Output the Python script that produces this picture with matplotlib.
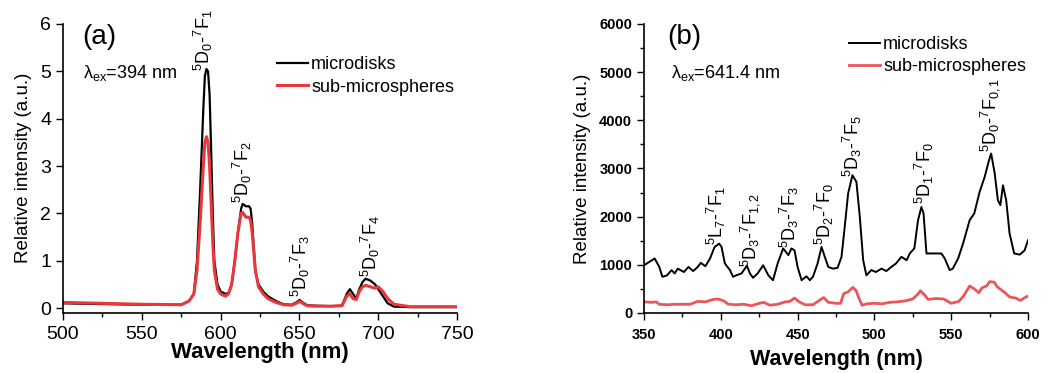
import matplotlib
matplotlib.use('Agg')
import matplotlib.pyplot as plt
from matplotlib.ticker import MultipleLocator

plt.rcParams['font.family'] = ['Liberation Sans', 'DejaVu Sans']
plt.rcParams['mathtext.fontset'] = 'custom'
plt.rcParams['mathtext.rm'] = 'Liberation Sans'
plt.rcParams['mathtext.it'] = 'Liberation Sans:italic'

# (a) emission, excitation 394 nm
wl_a = [500, 550, 575, 580, 583, 585, 587, 589, 590, 591, 592, 593, 594, 595, 596, 598,
        600, 603, 605, 607, 609, 611, 613, 614, 616, 618, 619, 620, 621, 622, 624, 627,
        630, 635, 640, 645, 648, 650, 652, 655, 660, 670, 677, 680, 682, 684, 686, 688,
        690, 692, 695, 698, 700, 703, 706, 710, 720, 750]
disks_a = [0.10, 0.07, 0.07, 0.15, 0.30, 1.0, 2.5, 4.2, 4.9, 5.05, 5.0, 4.5, 3.3, 2.0, 1.0, 0.5,
           0.35, 0.30, 0.32, 0.5, 1.0, 1.6, 2.1, 2.2, 2.15, 2.15, 2.1, 1.8, 1.3, 0.8, 0.5, 0.35,
           0.25, 0.15, 0.08, 0.07, 0.12, 0.17, 0.12, 0.06, 0.05, 0.04, 0.05, 0.30, 0.40, 0.30, 0.20, 0.40,
           0.55, 0.62, 0.58, 0.50, 0.40, 0.25, 0.10, 0.03, 0.02, 0.02]
spheres_a = [0.12, 0.08, 0.07, 0.15, 0.30, 0.8, 1.8, 3.0, 3.5, 3.62, 3.5, 3.0, 2.2, 1.4, 0.8, 0.4,
             0.30, 0.25, 0.30, 0.5, 1.0, 1.6, 2.0, 2.02, 1.92, 1.92, 1.85, 1.6, 1.2, 0.8, 0.45, 0.30,
             0.20, 0.12, 0.07, 0.06, 0.10, 0.14, 0.10, 0.05, 0.04, 0.04, 0.05, 0.25, 0.30, 0.20, 0.18, 0.35,
             0.45, 0.48, 0.45, 0.42, 0.45, 0.35, 0.20, 0.08, 0.03, 0.03]

# (b) emission, excitation 641.4 nm
wl_b = [350, 356, 357, 360, 362, 365, 368, 370, 372, 376, 379, 382, 385, 387, 390, 393,
        396, 399, 400.5, 402.7, 406, 408, 410, 413.5, 417, 419, 421, 424, 427.6, 431, 434, 437,
        440.6, 444, 446, 448, 450, 452.6, 455.8, 458, 460, 463, 465.6, 467.7, 470, 473, 476, 478.6,
        480.7, 482.9, 485.7, 488.3, 490.5, 492.7, 494.8, 498, 501, 504.6, 507.8, 511, 514, 517.6,
        521, 523, 526, 528.4, 530.6, 532, 533.9, 537, 541, 543.6, 545.8, 549, 551, 554.5,
        557.7, 562, 565, 568.5, 571.8, 574.6, 576, 578.3, 580.4, 582, 583.7, 585.8, 588, 591,
        594.6, 597.8, 600]
disks_b = [990, 1110, 1130, 955, 750, 780, 890, 820, 920, 850, 955, 870, 955, 1040, 970, 1130,
           1370, 1440, 1370, 1025, 890, 750, 780, 820, 980, 820, 730, 820, 990, 780, 680, 1025,
           1340, 1200, 1340, 1300, 955, 680, 760, 680, 750, 1025, 1370, 1165, 955, 920, 935, 1165,
           1790, 2480, 2860, 2720, 2000, 1095, 780, 890, 850, 920, 870, 955, 1025, 1165,
           1095, 1235, 1340, 1925, 2200, 2065, 1235, 1235, 1235, 1235, 1130, 890, 920, 1130,
           1440, 1925, 2065, 2515, 2825, 3170, 3310, 2900, 2340, 2240, 2650, 2340, 1650, 1235,
           1210, 1300, 1510]
wl_b2 = [350, 355, 358, 360, 365, 370, 380, 385, 390, 395, 398, 402, 405, 410, 415, 420,
         425, 428, 432, 437, 442, 445, 448, 451, 455, 460, 465, 467, 470, 475, 478, 480,
         483, 486, 488, 490, 492, 495, 500, 505, 510, 515, 520, 525, 528, 530, 533, 535,
         540, 545, 550, 555, 558, 562, 565, 568, 570, 573, 575, 578, 580, 585, 588, 592,
         595, 598, 600]
spheres_b = [230, 220, 230, 180, 170, 180, 180, 240, 230, 280, 290, 250, 180, 170, 180, 150,
             200, 220, 160, 180, 230, 240, 310, 230, 170, 170, 280, 320, 220, 200, 200, 400,
             440, 530, 470, 300, 160, 190, 200, 190, 220, 230, 250, 290, 380, 460, 360, 280,
             300, 290, 200, 240, 350, 560, 500, 420, 520, 560, 650, 640, 540, 420, 330, 310,
             260, 320, 350]

labels_a = [r'$\mathregular{^5D_0}$-$\mathregular{^7F_1}$', r'$\mathregular{^5D_0}$-$\mathregular{^7F_2}$',
            r'$\mathregular{^5D_0}$-$\mathregular{^7F_3}$', r'$\mathregular{^5D_0}$-$\mathregular{^7F_4}$']
lab_x_a = [589, 614, 650.4, 694.8]
lab_y_a = [5.0, 2.22, 0.24, 0.66]

labels_b = [r'$\mathregular{^5L_7}$-$\mathregular{^7F_1}$', r'$\mathregular{^5D_3}$-$\mathregular{^7F_{1,2}}$',
            r'$\mathregular{^5D_3}$-$\mathregular{^7F_3}$', r'$\mathregular{^5D_2}$-$\mathregular{^7F_0}$',
            r'$\mathregular{^5D_3}$-$\mathregular{^7F_5}$', r'$\mathregular{^5D_1}$-$\mathregular{^7F_0}$',
            r'$\mathregular{^5D_0}$-$\mathregular{^7F_{0,1}}$']
lab_x_b = [397, 419, 445, 467.7, 486, 532.8, 575]
lab_y_b = [1405, 955, 1340, 1405, 2830, 2270, 3350]

red = '#e8383c'

fig = plt.figure(figsize=(10.56, 3.73), dpi=100)
ax1 = fig.add_axes([0.0597, 0.162, 0.3731, 0.7737])
ax2 = fig.add_axes([0.6098, 0.161, 0.3637, 0.7747])

# panel (a)
ax1.plot(wl_a, disks_a, color='black', lw=1.6, label='microdisks')
ax1.plot(wl_a, spheres_a, color=red, lw=2.2, label='sub-microspheres')
ax1.set_xlim(500, 750)
ax1.set_ylim(-0.095, 6)
ax1.xaxis.set_major_locator(MultipleLocator(50))
ax1.xaxis.set_minor_locator(MultipleLocator(25))
ax1.yaxis.set_major_locator(MultipleLocator(1))
ax1.tick_params(labelsize=14, direction='out', length=5, width=1)
ax1.tick_params(axis='x', pad=5)
ax1.tick_params(which='minor', length=3, width=1)
ax1.set_xlabel('Wavelength (nm)', fontsize=16, fontweight='bold', labelpad=-1)
ax1.set_ylabel('Relative intensity (a.u.)', fontsize=13.5, labelpad=6)
ax1.text(0.05, 0.955, '(a)', transform=ax1.transAxes, fontsize=20, va='center')
ax1.text(0.05, 0.83, r'$\mathregular{\lambda_{ex}}$=394 nm', transform=ax1.transAxes, fontsize=13, va='center')
for s, x, y in zip(labels_a, lab_x_a, lab_y_a):
    ax1.text(x, y, s, rotation=90, ha='center', va='bottom', fontsize=13)
ax1.legend(loc='upper left', bbox_to_anchor=(0.52, 0.92), frameon=False, fontsize=13,
           handlelength=1.7, handletextpad=0.2, labelspacing=0.3, borderpad=0)

# panel (b)
ax2.plot(wl_b, disks_b, color='black', lw=1.4, label='microdisks')
ax2.plot(wl_b2, spheres_b, color=red, lw=2.0, alpha=0.85, label='sub-microspheres')
ax2.set_xlim(350, 600)
ax2.set_ylim(0, 6000)
ax2.xaxis.set_major_locator(MultipleLocator(50))
ax2.xaxis.set_minor_locator(MultipleLocator(25))
ax2.yaxis.set_major_locator(MultipleLocator(1000))
ax2.yaxis.set_minor_locator(MultipleLocator(500))
ax2.tick_params(labelsize=10.5, direction='out', length=5, width=1)
ax2.tick_params(axis='x', pad=6)
ax2.tick_params(which='minor', length=3, width=1)
for t in ax2.get_xticklabels() + ax2.get_yticklabels():
    t.set_fontweight('bold')
ax2.set_xlabel('Wavelength (nm)', fontsize=15.5, fontweight='bold', labelpad=5)
ax2.set_ylabel('Relative intensity (a.u.)', fontsize=13.5, labelpad=6)
ax2.text(0.06, 0.955, '(b)', transform=ax2.transAxes, fontsize=20, va='center')
ax2.text(0.07, 0.83, r'$\mathregular{\lambda_{ex}}$=641.4 nm', transform=ax2.transAxes, fontsize=13, va='center')
for s, x, y in zip(labels_b, lab_x_b, lab_y_b):
    ax2.text(x, y, s, rotation=90, ha='center', va='bottom', fontsize=13)
ax2.legend(loc='upper left', bbox_to_anchor=(0.51, 0.99), frameon=False, fontsize=13,
           handlelength=1.7, handletextpad=0.2, labelspacing=0.3, borderpad=0)

for ax in (ax1, ax2):
    ax.spines['top'].set_visible(False)
    ax.spines['right'].set_visible(False)
    ax.spines['left'].set_linewidth(1.2)
    ax.spines['bottom'].set_linewidth(1.2)

fig.savefig('out.png', dpi=100)
